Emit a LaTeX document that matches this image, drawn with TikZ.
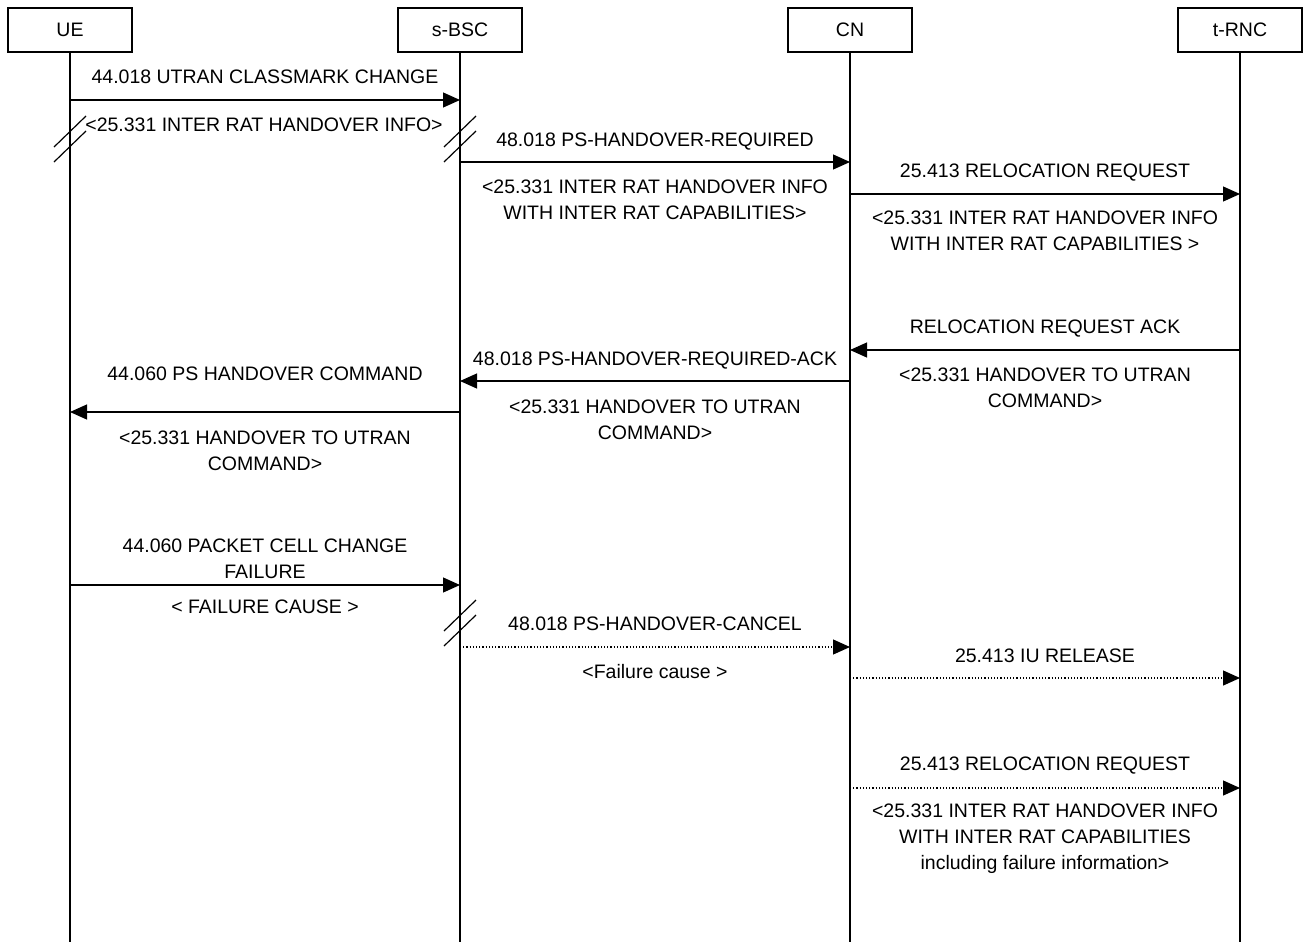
\documentclass[tikz,border=0pt]{standalone}
\usepackage{fontspec}
\setmainfont{Liberation Sans}
\usetikzlibrary{arrows.meta}
\begin{document}
\begin{tikzpicture}[x=1pt,y=-1pt,
  actor/.style={draw,line width=1.2pt,minimum width=124pt,minimum height=44pt,inner sep=0pt,font=\fontsize{19.5}{26}\selectfont},
  life/.style={line width=1.2pt},
  msg/.style={line width=1.2pt,-{Triangle[length=17pt,width=15pt]}},
  dmsg/.style={msg,dotted},
  lbl/.style={anchor=base,align=center,inner sep=0pt,font=\fontsize{19.5}{26}\selectfont},
  brk/.pic={\draw[line width=1.2pt] (-16,8)--(16,-23) (-16,23)--(16,-8);}
]
\useasboundingbox (0,0) rectangle (1305,942);
% actors
\node[actor] (UE) at (70,30) {UE};
\node[actor] (BSC) at (460,30) {s-BSC};
\node[actor] (CN) at (850,30) {CN};
\node[actor] (RNC) at (1240,30) {t-RNC};
\coordinate (UEe) at (70,942);
\coordinate (BSCe) at (460,942);
\coordinate (CNe) at (850,942);
\coordinate (RNCe) at (1240,942);
\draw[life] (UE.south) -- (UEe);
\draw[life] (BSC.south) -- (BSCe);
\draw[life] (CN.south) -- (CNe);
\draw[life] (RNC.south) -- (RNCe);
% breaks
\pic at (70,139) {brk};
\pic at (460,139) {brk};
\pic at (460,623) {brk};
% messages
\draw[msg] (UE |- 0,100) -- (BSC |- 0,100);
\draw[msg] (BSC |- 0,162) -- (CN |- 0,162);
\draw[msg] (CN |- 0,194) -- (RNC |- 0,194);
\draw[msg] (RNC |- 0,350) -- (CN |- 0,350);
\draw[msg] (CN |- 0,381) -- (BSC |- 0,381);
\draw[msg] (BSC |- 0,412) -- (UE |- 0,412);
\draw[msg] (UE |- 0,585) -- (BSC |- 0,585);
\draw[dmsg] (BSC |- 0,647) -- (CN |- 0,647);
\draw[dmsg] (CN |- 0,678) -- (RNC |- 0,678);
\draw[dmsg] (CN |- 0,788) -- (RNC |- 0,788);
% labels
\node[lbl] (l1) at (265,83) {44.018 UTRAN CLASSMARK CHANGE};
\node[lbl] (l2) at (264,131) {<25.331 INTER RAT HANDOVER INFO>};
\node[lbl] (l3) at (655,146) {48.018 PS-HANDOVER-REQUIRED};
\node[lbl] (l4) at (655,219) {<25.331 INTER RAT HANDOVER INFO\\WITH INTER RAT CAPABILITIES>};
\node[lbl] (l5) at (1045,177) {25.413 RELOCATION REQUEST};
\node[lbl] (l6) at (1045,250) {<25.331 INTER RAT HANDOVER INFO\\WITH INTER RAT CAPABILITIES >};
\node[lbl] (l7) at (1045,333) {RELOCATION REQUEST ACK};
\node[lbl] (l8) at (1045,407) {<25.331 HANDOVER TO UTRAN\\COMMAND>};
\node[lbl] (l9) at (655,365) {48.018 PS-HANDOVER-REQUIRED-ACK};
\node[lbl] (l10) at (655,439) {<25.331 HANDOVER TO UTRAN\\COMMAND>};
\node[lbl] (l11) at (265,380) {44.060 PS HANDOVER COMMAND};
\node[lbl] (l12) at (265,470) {<25.331 HANDOVER TO UTRAN\\COMMAND>};
\node[lbl] (l13) at (265,578) {44.060 PACKET CELL CHANGE\\FAILURE};
\node[lbl] (l14) at (265,613) {< FAILURE CAUSE >};
\node[lbl] (l15) at (655,630) {48.018 PS-HANDOVER-CANCEL};
\node[lbl] (l16) at (655,678) {<Failure cause >};
\node[lbl] (l17) at (1045,662) {25.413 IU RELEASE};
\node[lbl] (l18) at (1045,770) {25.413 RELOCATION REQUEST};
\node[lbl] (l19) at (1045,869) {<25.331 INTER RAT HANDOVER INFO\\WITH INTER RAT CAPABILITIES\\including failure information>};
\end{tikzpicture}
\end{document}
